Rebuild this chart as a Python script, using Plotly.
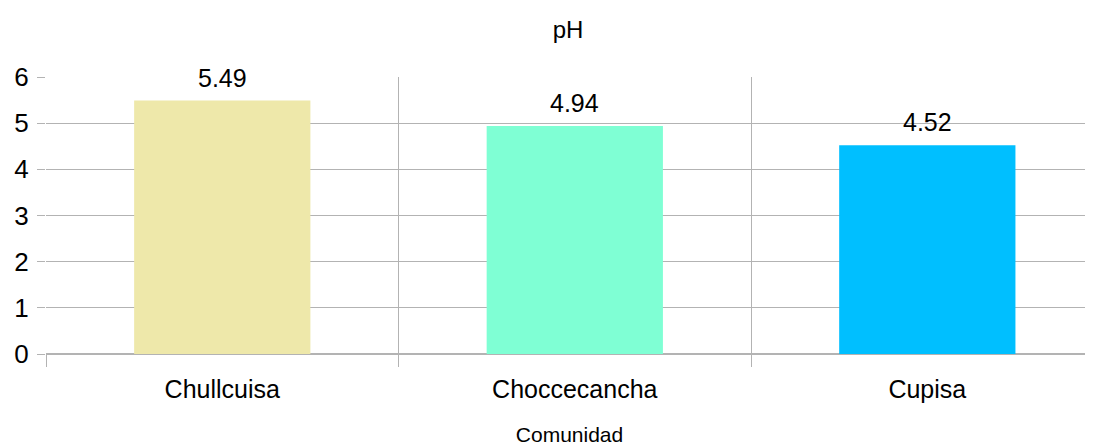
import plotly.graph_objects as go

categories = ["Chullcuisa", "Choccecancha", "Cupisa"]
ph_values = [5.49, 4.94, 4.52]
ph_labels = ["5.49", "4.94", "4.52"]
bar_colors = ["#EEE8AA", "#7FFFD4", "#00BFFF"]
y_ticks = [0, 1, 2, 3, 4, 5, 6]

FONT = "Liberation Sans, Arial, sans-serif"
W, H = 1085, 438

fig = go.Figure(
    go.Bar(
        x=categories,
        y=ph_values,
        marker=dict(color=bar_colors, line=dict(width=0)),
        width=0.5,
    )
)

for cat, val, lab in zip(categories, ph_values, ph_labels):
    fig.add_annotation(
        x=cat, y=val, text=lab, showarrow=False,
        xanchor="center", yanchor="bottom", yshift=7,
        font=dict(size=25, color="#000000", family=FONT),
    )

fig.update_layout(
    width=W,
    height=H,
    margin=dict(l=38, r=0, t=69, b=92),
    paper_bgcolor="white",
    plot_bgcolor="white",
    showlegend=False,
    font=dict(family=FONT, color="#000000"),
    title=dict(
        text="pH",
        x=560 / W,
        xanchor="center",
        y=1 - 22 / H,
        yanchor="middle",
        font=dict(size=24, family=FONT, color="#000000"),
    ),
    xaxis=dict(
        type="category",
        range=[-0.5, 2.47],
        tickson="boundaries",
        showgrid=True,
        gridcolor="#b3b3b3",
        gridwidth=1,
        ticks="outside",
        ticklen=12,
        tickcolor="#b3b3b3",
        ticklabelstandoff=18,
        tickfont=dict(size=25, family=FONT, color="#000000"),
        showline=False,
        zeroline=False,
        title=dict(text="Comunidad", font=dict(size=21, family=FONT, color="#000000"), standoff=27),
    ),
    yaxis=dict(
        range=[0, 6],
        tickvals=y_ticks,
        showgrid=True,
        gridcolor="#b3b3b3",
        gridwidth=1,
        ticks="outside",
        ticklen=8,
        tickcolor="#b3b3b3",
        ticklabelstandoff=3,
        tickfont=dict(size=26, family=FONT, color="#000000"),
        zeroline=True,
        zerolinecolor="#b3b3b3",
        zerolinewidth=2,
        showline=False,
    ),
)

fig.write_html("out.html")
